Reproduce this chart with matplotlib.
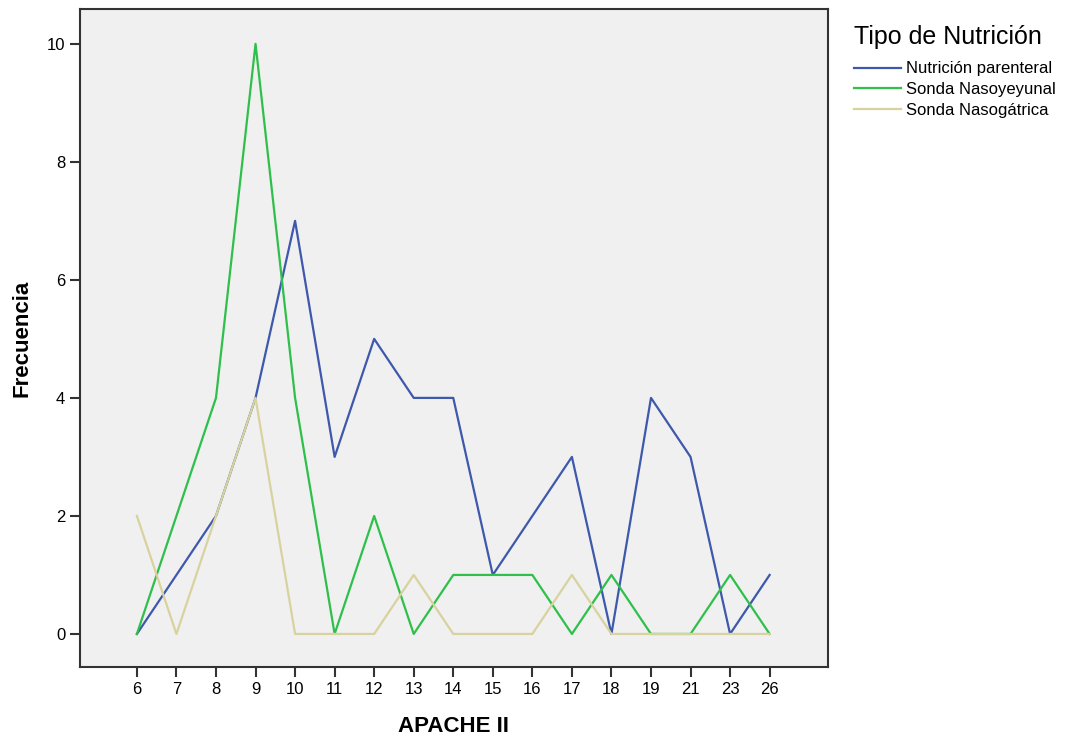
import matplotlib
matplotlib.use("Agg")
import matplotlib.pyplot as plt

plt.rcParams["font.family"] = ["Liberation Sans", "DejaVu Sans"]

apache = ["6", "7", "8", "9", "10", "11", "12", "13", "14", "15", "16", "17", "18", "19", "21", "23", "26"]
parenteral = [0, 1, 2, 4, 7, 3, 5, 4, 4, 1, 2, 3, 0, 4, 3, 0, 1]
nasoyeyunal = [0, 2, 4, 10, 4, 0, 2, 0, 1, 1, 1, 0, 1, 0, 0, 1, 0]
nasogastrica = [2, 0, 2, 4, 0, 0, 0, 1, 0, 0, 0, 1, 0, 0, 0, 0, 0]
series_names = ["Nutrición parenteral", "Sonda Nasoyeyunal", "Sonda Nasogátrica"]
colores = ["#3E58AC", "#2EC04A", "#D8D29E"]

fig = plt.figure(figsize=(10.76, 7.38), dpi=100)
ax = fig.add_axes([0.0743, 0.0962, 0.695, 0.8916])
ax.set_facecolor("#F0F0F0")

x = range(len(apache))
for valores, nombre, color in zip([parenteral, nasoyeyunal, nasogastrica], series_names, colores):
    ax.plot(x, valores, color=color, linewidth=1.6, label=nombre)

ax.set_xlim(-1.44, 17.47)
ax.set_ylim(-0.56, 10.59)
ax.set_xticks(list(x))
ax.set_xticklabels(apache)
ax.set_yticks([0, 2, 4, 6, 8, 10])
ax.tick_params(direction="out", length=7, width=1.5, labelsize=12, color="#333333")
for s in ax.spines.values():
    s.set_linewidth(1.5)
    s.set_color("#333333")

ax.set_xlabel("APACHE II", fontsize=16, fontweight="bold", labelpad=14)
ax.set_ylabel("Frecuencia", fontsize=16, fontweight="bold", labelpad=10)

leg = ax.legend(loc="upper left", bbox_to_anchor=(1.026, 0.986), frameon=False,
                title="Tipo de Nutrición", fontsize=12, handlelength=2.8,
                handletextpad=0.3, labelspacing=0.35, borderaxespad=0)
leg.get_title().set_fontsize(18)
leg._legend_box.align = "left"
leg._legend_box.sep = 9

plt.savefig("out.png", dpi=100)
plt.close()
